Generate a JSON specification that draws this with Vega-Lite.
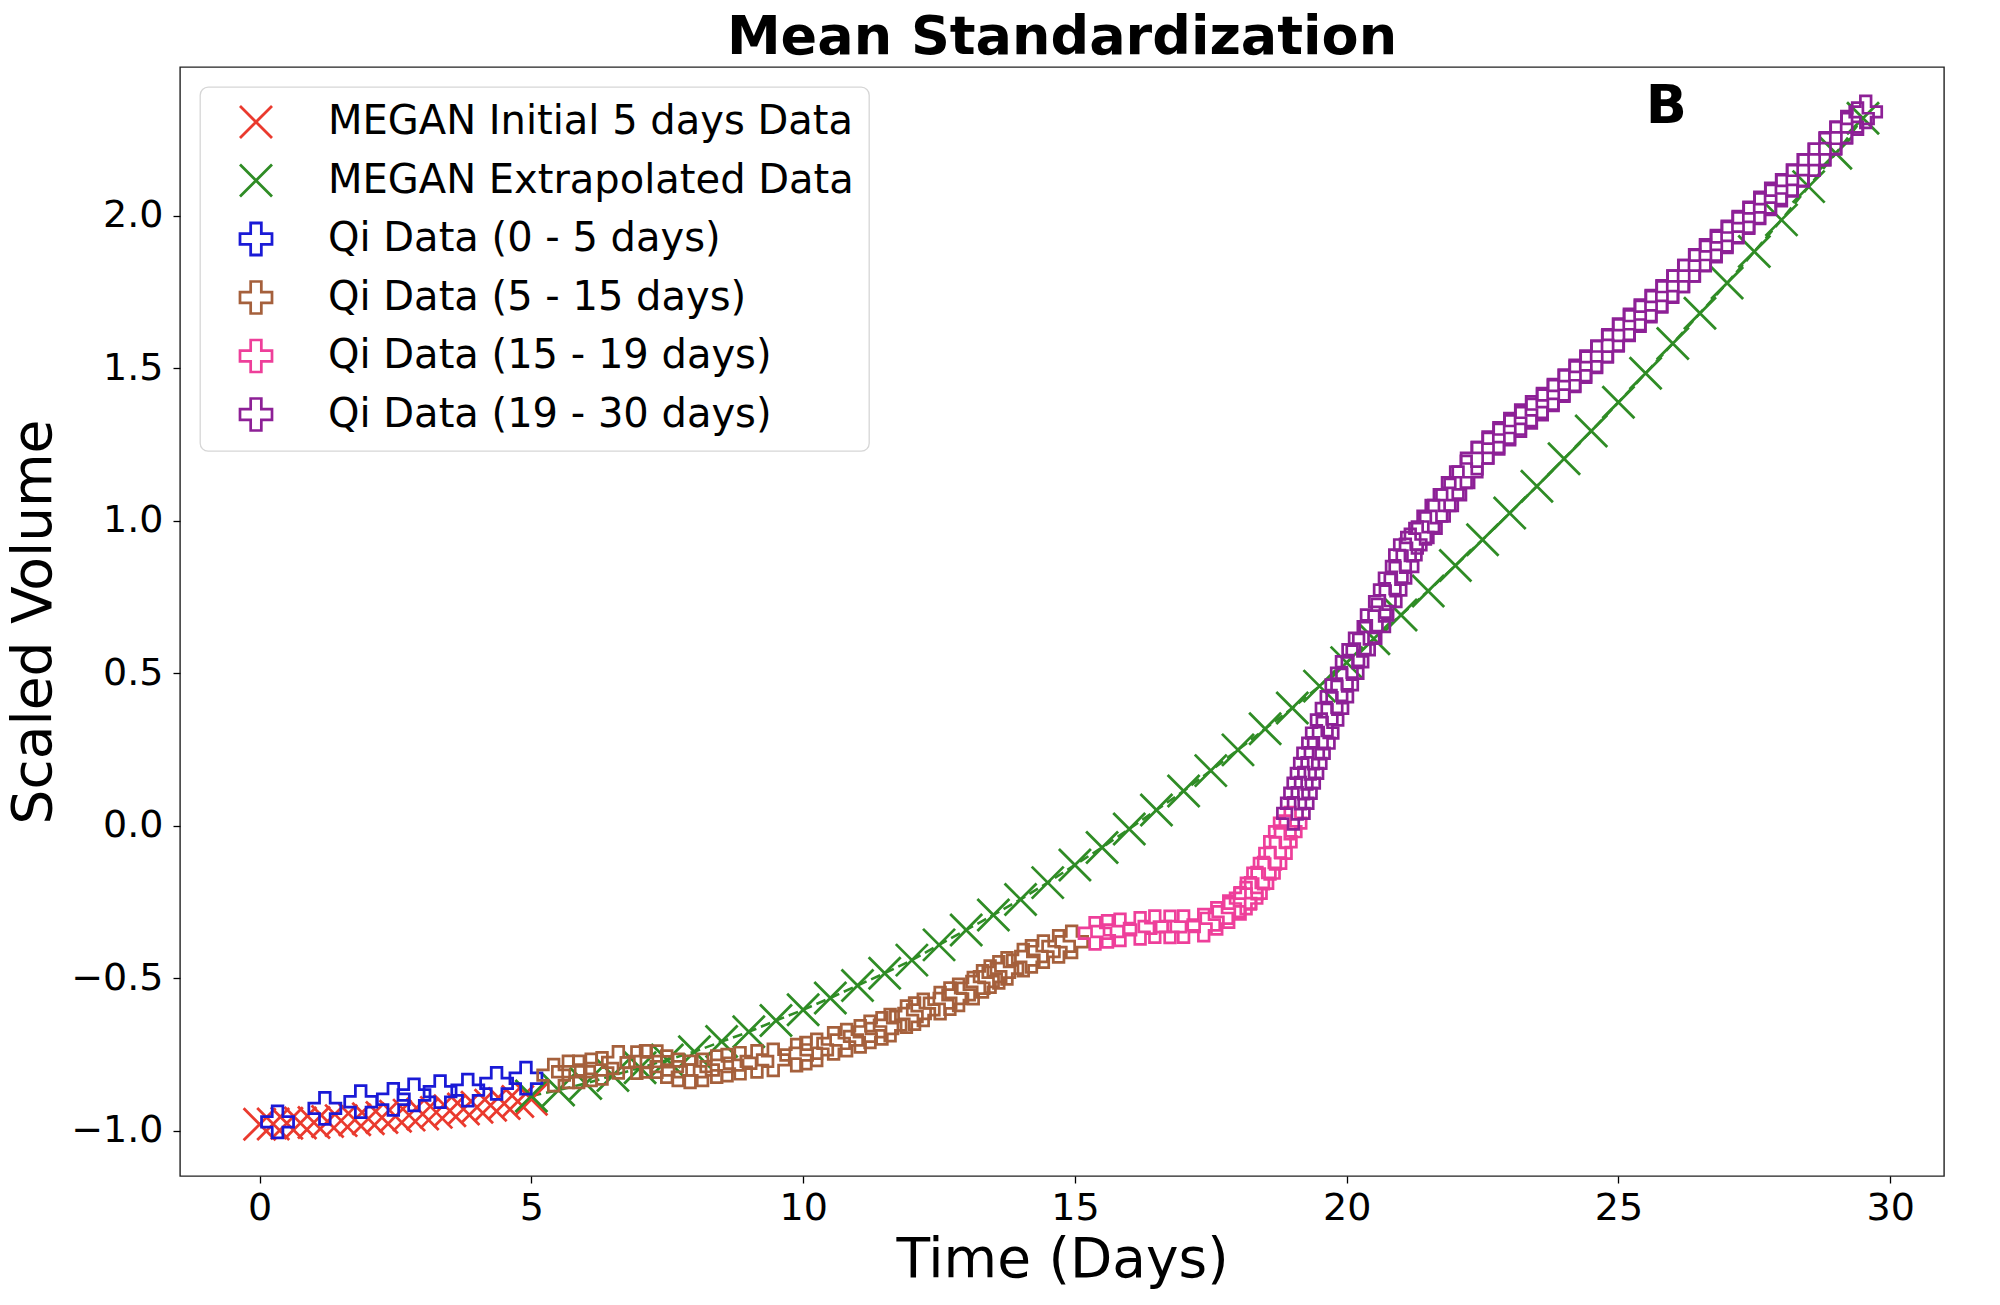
{
  "$schema": "https://vega.github.io/schema/vega-lite/v6.json",
  "width": 1764,
  "height": 1109,
  "autosize": {"type": "none"},
  "padding": {"left": 180, "top": 67, "right": 56, "bottom": 129},
  "background": "white",
  "title": {"text": "Mean Standardization", "fontSize": 54, "font": "DejaVu Sans", "fontWeight": "bold", "color": "black", "anchor": "middle", "offset": -41, "baseline": "alphabetic"},
  "config": {
    "view": {"stroke": "#222222", "strokeWidth": 1.4},
    "axis": {"grid": false, "domain": false, "labelFont": "DejaVu Sans", "titleFont": "DejaVu Sans", "labelFontSize": 38, "titleFontSize": 55, "titleFontWeight": "normal", "labelColor": "black", "titleColor": "black", "tickColor": "black", "tickSize": 7, "tickWidth": 1.3, "labelFlush": false, "labelOverlap": false},
    "legend": {"orient": "none", "legendX": 20, "legendY": 20, "padding": 15, "fillColor": "white", "strokeColor": "#d6d6d6", "strokeWidth": 1.3, "cornerRadius": 8, "labelFont": "DejaVu Sans", "labelFontSize": 40, "labelColor": "black", "labelLimit": 1000, "symbolSize": 1024, "symbolStrokeWidth": 2.2, "rowPadding": 14.5, "labelOffset": 52, "symbolOffset": 21}
  },
  "datasets": {
    "pts": [
      {"s": "MEGAN Initial 5 days Data", "t": 0, "v": -0.978},
      {"s": "MEGAN Initial 5 days Data", "t": 0.25, "v": -0.977},
      {"s": "MEGAN Initial 5 days Data", "t": 0.5, "v": -0.975},
      {"s": "MEGAN Initial 5 days Data", "t": 0.75, "v": -0.974},
      {"s": "MEGAN Initial 5 days Data", "t": 1.0, "v": -0.972},
      {"s": "MEGAN Initial 5 days Data", "t": 1.25, "v": -0.969},
      {"s": "MEGAN Initial 5 days Data", "t": 1.5, "v": -0.966},
      {"s": "MEGAN Initial 5 days Data", "t": 1.75, "v": -0.963},
      {"s": "MEGAN Initial 5 days Data", "t": 2.0, "v": -0.96},
      {"s": "MEGAN Initial 5 days Data", "t": 2.25, "v": -0.956},
      {"s": "MEGAN Initial 5 days Data", "t": 2.5, "v": -0.952},
      {"s": "MEGAN Initial 5 days Data", "t": 2.75, "v": -0.948},
      {"s": "MEGAN Initial 5 days Data", "t": 3.0, "v": -0.944},
      {"s": "MEGAN Initial 5 days Data", "t": 3.25, "v": -0.939},
      {"s": "MEGAN Initial 5 days Data", "t": 3.5, "v": -0.934},
      {"s": "MEGAN Initial 5 days Data", "t": 3.75, "v": -0.928},
      {"s": "MEGAN Initial 5 days Data", "t": 4.0, "v": -0.922},
      {"s": "MEGAN Initial 5 days Data", "t": 4.25, "v": -0.916},
      {"s": "MEGAN Initial 5 days Data", "t": 4.5, "v": -0.91},
      {"s": "MEGAN Initial 5 days Data", "t": 4.75, "v": -0.903},
      {"s": "MEGAN Initial 5 days Data", "t": 5.0, "v": -0.896},
      {"s": "MEGAN Extrapolated Data", "t": 5.0, "v": -0.885},
      {"s": "MEGAN Extrapolated Data", "t": 5.5, "v": -0.866},
      {"s": "MEGAN Extrapolated Data", "t": 6.0, "v": -0.844},
      {"s": "MEGAN Extrapolated Data", "t": 6.5, "v": -0.818},
      {"s": "MEGAN Extrapolated Data", "t": 7.0, "v": -0.793},
      {"s": "MEGAN Extrapolated Data", "t": 7.5, "v": -0.767},
      {"s": "MEGAN Extrapolated Data", "t": 8.0, "v": -0.74},
      {"s": "MEGAN Extrapolated Data", "t": 8.5, "v": -0.707},
      {"s": "MEGAN Extrapolated Data", "t": 9.0, "v": -0.675},
      {"s": "MEGAN Extrapolated Data", "t": 9.5, "v": -0.638},
      {"s": "MEGAN Extrapolated Data", "t": 10.0, "v": -0.603},
      {"s": "MEGAN Extrapolated Data", "t": 10.5, "v": -0.564},
      {"s": "MEGAN Extrapolated Data", "t": 11.0, "v": -0.523},
      {"s": "MEGAN Extrapolated Data", "t": 11.5, "v": -0.483},
      {"s": "MEGAN Extrapolated Data", "t": 12.0, "v": -0.44},
      {"s": "MEGAN Extrapolated Data", "t": 12.5, "v": -0.39},
      {"s": "MEGAN Extrapolated Data", "t": 13.0, "v": -0.341},
      {"s": "MEGAN Extrapolated Data", "t": 13.5, "v": -0.292},
      {"s": "MEGAN Extrapolated Data", "t": 14.0, "v": -0.241},
      {"s": "MEGAN Extrapolated Data", "t": 14.5, "v": -0.186},
      {"s": "MEGAN Extrapolated Data", "t": 15.0, "v": -0.128},
      {"s": "MEGAN Extrapolated Data", "t": 15.5, "v": -0.071},
      {"s": "MEGAN Extrapolated Data", "t": 16.0, "v": -0.01},
      {"s": "MEGAN Extrapolated Data", "t": 16.5, "v": 0.052},
      {"s": "MEGAN Extrapolated Data", "t": 17.0, "v": 0.114},
      {"s": "MEGAN Extrapolated Data", "t": 17.5, "v": 0.181},
      {"s": "MEGAN Extrapolated Data", "t": 18.0, "v": 0.249},
      {"s": "MEGAN Extrapolated Data", "t": 18.5, "v": 0.318},
      {"s": "MEGAN Extrapolated Data", "t": 19.0, "v": 0.386},
      {"s": "MEGAN Extrapolated Data", "t": 19.5, "v": 0.458},
      {"s": "MEGAN Extrapolated Data", "t": 20.0, "v": 0.535},
      {"s": "MEGAN Extrapolated Data", "t": 20.5, "v": 0.613},
      {"s": "MEGAN Extrapolated Data", "t": 21.0, "v": 0.691},
      {"s": "MEGAN Extrapolated Data", "t": 21.5, "v": 0.77},
      {"s": "MEGAN Extrapolated Data", "t": 22.0, "v": 0.853},
      {"s": "MEGAN Extrapolated Data", "t": 22.5, "v": 0.938},
      {"s": "MEGAN Extrapolated Data", "t": 23.0, "v": 1.025},
      {"s": "MEGAN Extrapolated Data", "t": 23.5, "v": 1.113},
      {"s": "MEGAN Extrapolated Data", "t": 24.0, "v": 1.203},
      {"s": "MEGAN Extrapolated Data", "t": 24.5, "v": 1.294},
      {"s": "MEGAN Extrapolated Data", "t": 25.0, "v": 1.388},
      {"s": "MEGAN Extrapolated Data", "t": 25.5, "v": 1.483},
      {"s": "MEGAN Extrapolated Data", "t": 26.0, "v": 1.581},
      {"s": "MEGAN Extrapolated Data", "t": 26.5, "v": 1.68},
      {"s": "MEGAN Extrapolated Data", "t": 27.0, "v": 1.779},
      {"s": "MEGAN Extrapolated Data", "t": 27.5, "v": 1.882},
      {"s": "MEGAN Extrapolated Data", "t": 28.0, "v": 1.986},
      {"s": "MEGAN Extrapolated Data", "t": 28.5, "v": 2.095},
      {"s": "MEGAN Extrapolated Data", "t": 29.0, "v": 2.204},
      {"s": "MEGAN Extrapolated Data", "t": 29.5, "v": 2.319},
      {"s": "Qi Data (0 - 5 days)", "t": 0.33, "v": -0.97},
      {"s": "Qi Data (0 - 5 days)", "t": 1.2, "v": -0.926},
      {"s": "Qi Data (0 - 5 days)", "t": 1.86, "v": -0.904},
      {"s": "Qi Data (0 - 5 days)", "t": 2.46, "v": -0.896},
      {"s": "Qi Data (0 - 5 days)", "t": 2.84, "v": -0.882},
      {"s": "Qi Data (0 - 5 days)", "t": 3.32, "v": -0.871},
      {"s": "Qi Data (0 - 5 days)", "t": 3.83, "v": -0.866},
      {"s": "Qi Data (0 - 5 days)", "t": 4.36, "v": -0.844},
      {"s": "Qi Data (0 - 5 days)", "t": 4.9, "v": -0.827},
      {"s": "Qi Data (5 - 15 days)", "t": 5.41, "v": -0.817},
      {"s": "Qi Data (5 - 15 days)", "t": 5.68, "v": -0.806},
      {"s": "Qi Data (5 - 15 days)", "t": 5.87, "v": -0.806},
      {"s": "Qi Data (5 - 15 days)", "t": 6.1, "v": -0.8},
      {"s": "Qi Data (5 - 15 days)", "t": 6.3, "v": -0.795},
      {"s": "Qi Data (5 - 15 days)", "t": 6.6, "v": -0.775},
      {"s": "Qi Data (5 - 15 days)", "t": 6.94, "v": -0.776},
      {"s": "Qi Data (5 - 15 days)", "t": 7.1, "v": -0.772},
      {"s": "Qi Data (5 - 15 days)", "t": 7.31, "v": -0.773},
      {"s": "Qi Data (5 - 15 days)", "t": 7.49, "v": -0.789},
      {"s": "Qi Data (5 - 15 days)", "t": 7.7, "v": -0.8},
      {"s": "Qi Data (5 - 15 days)", "t": 7.92, "v": -0.806},
      {"s": "Qi Data (5 - 15 days)", "t": 8.15, "v": -0.8},
      {"s": "Qi Data (5 - 15 days)", "t": 8.41, "v": -0.789},
      {"s": "Qi Data (5 - 15 days)", "t": 8.6, "v": -0.784},
      {"s": "Qi Data (5 - 15 days)", "t": 8.84, "v": -0.778},
      {"s": "Qi Data (5 - 15 days)", "t": 9.15, "v": -0.772},
      {"s": "Qi Data (5 - 15 days)", "t": 9.45, "v": -0.767},
      {"s": "Qi Data (5 - 15 days)", "t": 9.88, "v": -0.751},
      {"s": "Qi Data (5 - 15 days)", "t": 10.05, "v": -0.745},
      {"s": "Qi Data (5 - 15 days)", "t": 10.25, "v": -0.734},
      {"s": "Qi Data (5 - 15 days)", "t": 10.56, "v": -0.713},
      {"s": "Qi Data (5 - 15 days)", "t": 10.8, "v": -0.702},
      {"s": "Qi Data (5 - 15 days)", "t": 11.05, "v": -0.69},
      {"s": "Qi Data (5 - 15 days)", "t": 11.23, "v": -0.675},
      {"s": "Qi Data (5 - 15 days)", "t": 11.45, "v": -0.664},
      {"s": "Qi Data (5 - 15 days)", "t": 11.6, "v": -0.653},
      {"s": "Qi Data (5 - 15 days)", "t": 11.9, "v": -0.625},
      {"s": "Qi Data (5 - 15 days)", "t": 12.05, "v": -0.615},
      {"s": "Qi Data (5 - 15 days)", "t": 12.21, "v": -0.603},
      {"s": "Qi Data (5 - 15 days)", "t": 12.52, "v": -0.581},
      {"s": "Qi Data (5 - 15 days)", "t": 12.7, "v": -0.566},
      {"s": "Qi Data (5 - 15 days)", "t": 12.86, "v": -0.554},
      {"s": "Qi Data (5 - 15 days)", "t": 13.13, "v": -0.532},
      {"s": "Qi Data (5 - 15 days)", "t": 13.3, "v": -0.51},
      {"s": "Qi Data (5 - 15 days)", "t": 13.44, "v": -0.494},
      {"s": "Qi Data (5 - 15 days)", "t": 13.6, "v": -0.48},
      {"s": "Qi Data (5 - 15 days)", "t": 13.75, "v": -0.467},
      {"s": "Qi Data (5 - 15 days)", "t": 14.05, "v": -0.44},
      {"s": "Qi Data (5 - 15 days)", "t": 14.2, "v": -0.428},
      {"s": "Qi Data (5 - 15 days)", "t": 14.42, "v": -0.412},
      {"s": "Qi Data (5 - 15 days)", "t": 14.7, "v": -0.395},
      {"s": "Qi Data (5 - 15 days)", "t": 14.94, "v": -0.38},
      {"s": "Qi Data (15 - 19 days)", "t": 15.37, "v": -0.352},
      {"s": "Qi Data (15 - 19 days)", "t": 15.6, "v": -0.346},
      {"s": "Qi Data (15 - 19 days)", "t": 15.83, "v": -0.341},
      {"s": "Qi Data (15 - 19 days)", "t": 16.2, "v": -0.336},
      {"s": "Qi Data (15 - 19 days)", "t": 16.47, "v": -0.33},
      {"s": "Qi Data (15 - 19 days)", "t": 16.75, "v": -0.331},
      {"s": "Qi Data (15 - 19 days)", "t": 17.0, "v": -0.33},
      {"s": "Qi Data (15 - 19 days)", "t": 17.37, "v": -0.325},
      {"s": "Qi Data (15 - 19 days)", "t": 17.61, "v": -0.303},
      {"s": "Qi Data (15 - 19 days)", "t": 17.83, "v": -0.281},
      {"s": "Qi Data (15 - 19 days)", "t": 18.04, "v": -0.254},
      {"s": "Qi Data (15 - 19 days)", "t": 18.15, "v": -0.237},
      {"s": "Qi Data (15 - 19 days)", "t": 18.23, "v": -0.221},
      {"s": "Qi Data (15 - 19 days)", "t": 18.35, "v": -0.188},
      {"s": "Qi Data (15 - 19 days)", "t": 18.47, "v": -0.155},
      {"s": "Qi Data (15 - 19 days)", "t": 18.59, "v": -0.123},
      {"s": "Qi Data (15 - 19 days)", "t": 18.69, "v": -0.09},
      {"s": "Qi Data (15 - 19 days)", "t": 18.78, "v": -0.052},
      {"s": "Qi Data (15 - 19 days)", "t": 18.87, "v": -0.019},
      {"s": "Qi Data (15 - 19 days)", "t": 18.96, "v": 0.009},
      {"s": "Qi Data (19 - 30 days)", "t": 19.02, "v": 0.041},
      {"s": "Qi Data (19 - 30 days)", "t": 19.09, "v": 0.074},
      {"s": "Qi Data (19 - 30 days)", "t": 19.15, "v": 0.107},
      {"s": "Qi Data (19 - 30 days)", "t": 19.21, "v": 0.14},
      {"s": "Qi Data (19 - 30 days)", "t": 19.27, "v": 0.172},
      {"s": "Qi Data (19 - 30 days)", "t": 19.33, "v": 0.205},
      {"s": "Qi Data (19 - 30 days)", "t": 19.39, "v": 0.238},
      {"s": "Qi Data (19 - 30 days)", "t": 19.48, "v": 0.271},
      {"s": "Qi Data (19 - 30 days)", "t": 19.55, "v": 0.304},
      {"s": "Qi Data (19 - 30 days)", "t": 19.64, "v": 0.347},
      {"s": "Qi Data (19 - 30 days)", "t": 19.73, "v": 0.385},
      {"s": "Qi Data (19 - 30 days)", "t": 19.82, "v": 0.423},
      {"s": "Qi Data (19 - 30 days)", "t": 19.91, "v": 0.462},
      {"s": "Qi Data (19 - 30 days)", "t": 20.01, "v": 0.5},
      {"s": "Qi Data (19 - 30 days)", "t": 20.1, "v": 0.538},
      {"s": "Qi Data (19 - 30 days)", "t": 20.22, "v": 0.577},
      {"s": "Qi Data (19 - 30 days)", "t": 20.34, "v": 0.615},
      {"s": "Qi Data (19 - 30 days)", "t": 20.5, "v": 0.653},
      {"s": "Qi Data (19 - 30 days)", "t": 20.56, "v": 0.691},
      {"s": "Qi Data (19 - 30 days)", "t": 20.71, "v": 0.735},
      {"s": "Qi Data (19 - 30 days)", "t": 20.8, "v": 0.773},
      {"s": "Qi Data (19 - 30 days)", "t": 20.89, "v": 0.812},
      {"s": "Qi Data (19 - 30 days)", "t": 21.02, "v": 0.85},
      {"s": "Qi Data (19 - 30 days)", "t": 21.08, "v": 0.888},
      {"s": "Qi Data (19 - 30 days)", "t": 21.17, "v": 0.921},
      {"s": "Qi Data (19 - 30 days)", "t": 21.3, "v": 0.945},
      {"s": "Qi Data (19 - 30 days)", "t": 21.45, "v": 0.975},
      {"s": "Qi Data (19 - 30 days)", "t": 21.6, "v": 1.015},
      {"s": "Qi Data (19 - 30 days)", "t": 21.75, "v": 1.05},
      {"s": "Qi Data (19 - 30 days)", "t": 21.9, "v": 1.085},
      {"s": "Qi Data (19 - 30 days)", "t": 22.05, "v": 1.125},
      {"s": "Qi Data (19 - 30 days)", "t": 22.2, "v": 1.16},
      {"s": "Qi Data (19 - 30 days)", "t": 22.4, "v": 1.205},
      {"s": "Qi Data (19 - 30 days)", "t": 22.6, "v": 1.24},
      {"s": "Qi Data (19 - 30 days)", "t": 22.8, "v": 1.27},
      {"s": "Qi Data (19 - 30 days)", "t": 23.0, "v": 1.3},
      {"s": "Qi Data (19 - 30 days)", "t": 23.2, "v": 1.328},
      {"s": "Qi Data (19 - 30 days)", "t": 23.4, "v": 1.355},
      {"s": "Qi Data (19 - 30 days)", "t": 23.6, "v": 1.382},
      {"s": "Qi Data (19 - 30 days)", "t": 23.8, "v": 1.412},
      {"s": "Qi Data (19 - 30 days)", "t": 24.0, "v": 1.443},
      {"s": "Qi Data (19 - 30 days)", "t": 24.2, "v": 1.475},
      {"s": "Qi Data (19 - 30 days)", "t": 24.4, "v": 1.505},
      {"s": "Qi Data (19 - 30 days)", "t": 24.6, "v": 1.537},
      {"s": "Qi Data (19 - 30 days)", "t": 24.8, "v": 1.572},
      {"s": "Qi Data (19 - 30 days)", "t": 25.0, "v": 1.61},
      {"s": "Qi Data (19 - 30 days)", "t": 25.2, "v": 1.642},
      {"s": "Qi Data (19 - 30 days)", "t": 25.4, "v": 1.672},
      {"s": "Qi Data (19 - 30 days)", "t": 25.6, "v": 1.703},
      {"s": "Qi Data (19 - 30 days)", "t": 25.8, "v": 1.735},
      {"s": "Qi Data (19 - 30 days)", "t": 26.0, "v": 1.767},
      {"s": "Qi Data (19 - 30 days)", "t": 26.2, "v": 1.802},
      {"s": "Qi Data (19 - 30 days)", "t": 26.4, "v": 1.837},
      {"s": "Qi Data (19 - 30 days)", "t": 26.6, "v": 1.87},
      {"s": "Qi Data (19 - 30 days)", "t": 26.8, "v": 1.9},
      {"s": "Qi Data (19 - 30 days)", "t": 27.0, "v": 1.93},
      {"s": "Qi Data (19 - 30 days)", "t": 27.2, "v": 1.962},
      {"s": "Qi Data (19 - 30 days)", "t": 27.4, "v": 1.993},
      {"s": "Qi Data (19 - 30 days)", "t": 27.6, "v": 2.025},
      {"s": "Qi Data (19 - 30 days)", "t": 27.8, "v": 2.055},
      {"s": "Qi Data (19 - 30 days)", "t": 28.0, "v": 2.083},
      {"s": "Qi Data (19 - 30 days)", "t": 28.2, "v": 2.115},
      {"s": "Qi Data (19 - 30 days)", "t": 28.4, "v": 2.148},
      {"s": "Qi Data (19 - 30 days)", "t": 28.6, "v": 2.183},
      {"s": "Qi Data (19 - 30 days)", "t": 28.8, "v": 2.218},
      {"s": "Qi Data (19 - 30 days)", "t": 29.0, "v": 2.255},
      {"s": "Qi Data (19 - 30 days)", "t": 29.2, "v": 2.29},
      {"s": "Qi Data (19 - 30 days)", "t": 29.4, "v": 2.318},
      {"s": "Qi Data (19 - 30 days)", "t": 29.55, "v": 2.34}
    ],
    "note": [{"label": "B", "t": 25.88, "v": 2.303}]
  },
  "layer": [
    {
      "data": {"name": "pts"},
      "transform": [{"filter": "datum.s === 'MEGAN Extrapolated Data'"}],
      "mark": {"type": "line", "strokeDash": [10, 5], "strokeWidth": 2.6, "color": "#2f8c25"},
      "encoding": {
        "x": {"field": "t", "type": "quantitative", "scale": {"domain": [-1.465, 30.99], "nice": false, "zero": false}, "axis": {"title": "Time (Days)", "values": [0, 5, 10, 15, 20, 25, 30], "labelPadding": 6, "titlePadding": 6}},
        "y": {"field": "v", "type": "quantitative", "scale": {"domain": [-1.1475, 2.487], "nice": false, "zero": false}, "axis": {"title": "Scaled Volume", "values": [-1, -0.5, 0, 0.5, 1, 1.5, 2], "format": ".1f", "labelPadding": 10, "titlePadding": 8}}
      }
    },
    {
      "data": {"name": "pts"},
      "mark": {"type": "point", "filled": false, "opacity": 1},
      "encoding": {
        "x": {"field": "t", "type": "quantitative"},
        "y": {"field": "v", "type": "quantitative"},
        "color": {"field": "s", "type": "nominal", "title": null, "scale": {"domain": ["MEGAN Initial 5 days Data", "MEGAN Extrapolated Data", "Qi Data (0 - 5 days)", "Qi Data (5 - 15 days)", "Qi Data (15 - 19 days)", "Qi Data (19 - 30 days)"], "range": ["#ea3a2e", "#2f8c25", "#1a1ad6", "#a5603c", "#ee3f9a", "#8d2096"]}},
        "shape": {"field": "s", "type": "nominal", "title": null, "scale": {"domain": ["MEGAN Initial 5 days Data", "MEGAN Extrapolated Data", "Qi Data (0 - 5 days)", "Qi Data (5 - 15 days)", "Qi Data (15 - 19 days)", "Qi Data (19 - 30 days)"], "range": ["M-1,-1L1,1M-1,1L1,-1", "M-1,-1L1,1M-1,1L1,-1", "M-0.333,-1L0.333,-1L0.333,-0.333L1,-0.333L1,0.333L0.333,0.333L0.333,1L-0.333,1L-0.333,0.333L-1,0.333L-1,-0.333L-0.333,-0.333Z", "M-0.333,-1L0.333,-1L0.333,-0.333L1,-0.333L1,0.333L0.333,0.333L0.333,1L-0.333,1L-0.333,0.333L-1,0.333L-1,-0.333L-0.333,-0.333Z", "M-0.333,-1L0.333,-1L0.333,-0.333L1,-0.333L1,0.333L0.333,0.333L0.333,1L-0.333,1L-0.333,0.333L-1,0.333L-1,-0.333L-0.333,-0.333Z", "M-0.333,-1L0.333,-1L0.333,-0.333L1,-0.333L1,0.333L0.333,0.333L0.333,1L-0.333,1L-0.333,0.333L-1,0.333L-1,-0.333L-0.333,-0.333Z"]}},
        "strokeWidth": {"field": "s", "type": "nominal", "title": null, "scale": {"domain": ["MEGAN Initial 5 days Data", "MEGAN Extrapolated Data", "Qi Data (0 - 5 days)", "Qi Data (5 - 15 days)", "Qi Data (15 - 19 days)", "Qi Data (19 - 30 days)"], "range": [2.8, 2.7, 2.1, 2.1, 2.1, 2.1]}},
        "size": {"value": 1024}
      }
    },
    {
      "data": {"name": "note"},
      "mark": {"type": "text", "fontSize": 54, "fontWeight": "bold", "font": "DejaVu Sans", "align": "center", "baseline": "alphabetic", "color": "black"},
      "encoding": {
        "x": {"field": "t", "type": "quantitative"},
        "y": {"field": "v", "type": "quantitative"},
        "text": {"field": "label"}
      }
    }
  ]
}
